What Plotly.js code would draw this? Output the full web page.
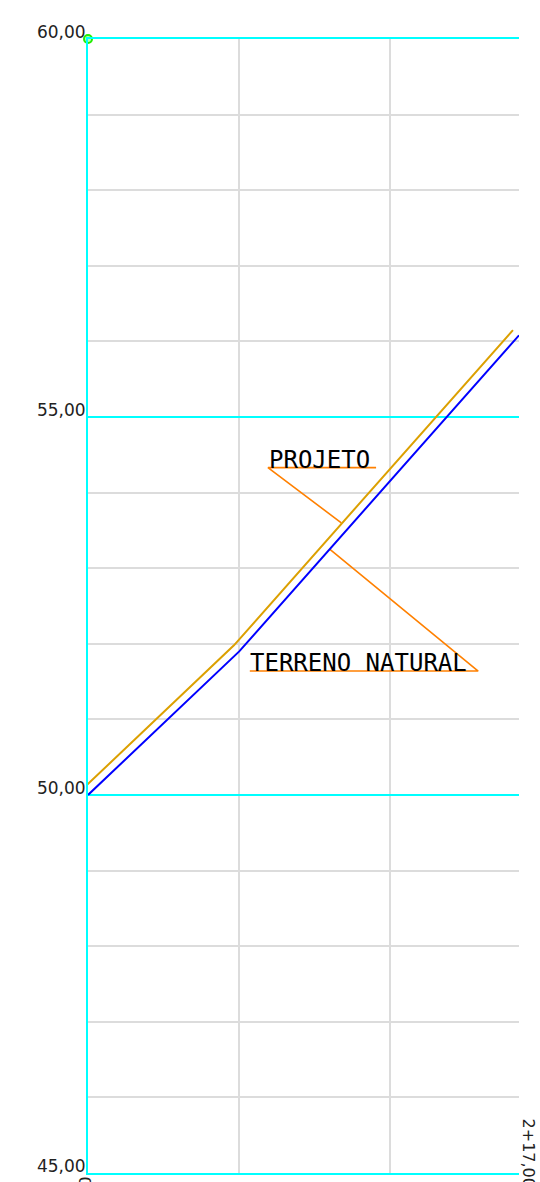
<!DOCTYPE html>
<html>
<head>
<meta charset="utf-8">
<script src="https://cdn.plot.ly/plotly-3.0.1.min.js"></script>
<style>html,body{margin:0;padding:0;background:#fff;}#chart{width:540px;height:1182px;}</style>
</head>
<body>
<div id="chart"></div>
<script>
// Distances (m) and elevations (m)
const terrenoX = [0, 20, 57];
const terrenoY = [50.0, 51.9, 56.08];
const projetoX = [-0.7, 19.3, 56.2];
const projetoY = [50.08, 51.98, 56.15];

const yTickVals = [45, 50, 55, 60];
const yTickText = ["45,00", "50,00", "55,00", "60,00"];
const xGridVals = [0, 20, 40, 57];
const stationLabels = ["0+00,00", "2+17,00"];
const stationX = [0, 57];

// label leaders (data coords)
const projLeaderX = [38.1, 23.8, 33.5];
const projLeaderY = [54.33, 54.33, 53.6];
const terrLeaderX = [21.4, 51.6, 32.0];
const terrLeaderY = [51.64, 51.64, 53.25];

const traces = [
  {x: projLeaderX, y: projLeaderY, mode: 'lines', line: {color: '#ff8000', width: 1.6}, hoverinfo: 'skip'},
  {x: terrLeaderX, y: terrLeaderY, mode: 'lines', line: {color: '#ff8000', width: 1.6}, hoverinfo: 'skip'},
  {x: projetoX, y: projetoY, mode: 'lines', line: {color: '#dca000', width: 2}, cliponaxis: false, name: 'PROJETO'},
  {x: terrenoX, y: terrenoY, mode: 'lines', line: {color: '#0000ff', width: 2}, name: 'TERRENO NATURAL'},
  {x: [0], y: [60], mode: 'markers', marker: {symbol: 'circle', size: 8, color: '#b8ffb0', line: {color: '#22ee00', width: 2}}, cliponaxis: false}
];

const labelFont = {family: 'DejaVu Sans Mono', size: 24, color: '#000'};
const tickFont = {family: 'DejaVu Sans', size: 17, color: '#222'};
const layout = {
  width: 540, height: 1182,
  margin: {l: 88, r: 21, t: 39, b: 9},
  paper_bgcolor: '#fff', plot_bgcolor: '#fff',
  showlegend: false,
  xaxis: {
    range: [0, 57], tickvals: xGridVals, showticklabels: false,
    showgrid: true, gridcolor: '#dcdcdc', gridwidth: 2,
    zeroline: true, zerolinecolor: '#00ffff', zerolinewidth: 2,
    showline: true, linecolor: '#00ffff', linewidth: 2, mirror: true,
    ticks: '', fixedrange: true
  },
  yaxis: {
    range: [45, 60], tickvals: yTickVals, ticktext: yTickText,
    showgrid: true, gridcolor: '#00ffff', gridwidth: 2,
    minor: {dtick: 1, tick0: 45, showgrid: true, gridcolor: '#dcdcdc', gridwidth: 2, ticks: ''},
    zeroline: false, showline: true, linecolor: '#00ffff', linewidth: 2,
    ticks: '', ticklabelshift: -7, ticklabelstandoff: -3, ticklabeloverflow: 'allow',
    tickfont: tickFont, fixedrange: true
  },
  annotations: [
    {x: 23.7, y: 54.43, xref: 'x', yref: 'y', text: 'PROJETO', showarrow: false, xanchor: 'left', yanchor: 'middle', font: labelFont},
    {x: 21.2, y: 51.75, xref: 'x', yref: 'y', text: 'TERRENO NATURAL', showarrow: false, xanchor: 'left', yanchor: 'middle', font: labelFont},
    {x: stationX[1], y: 45.27, xref: 'x', yref: 'y', xshift: 9, text: stationLabels[1], textangle: 90, showarrow: false, xanchor: 'center', yanchor: 'middle', font: {family: 'DejaVu Sans', size: 16, color: '#222'}},
    {x: stationX[0], y: -0.033, xref: 'x', yref: 'paper', xshift: -3, text: stationLabels[0], textangle: 90, showarrow: false, xanchor: 'center', yanchor: 'middle', font: {family: 'DejaVu Sans', size: 16, color: '#222'}}
  ]
};

Plotly.newPlot('chart', traces, layout, {displayModeBar: false, staticPlot: true});
</script>
</body>
</html>
